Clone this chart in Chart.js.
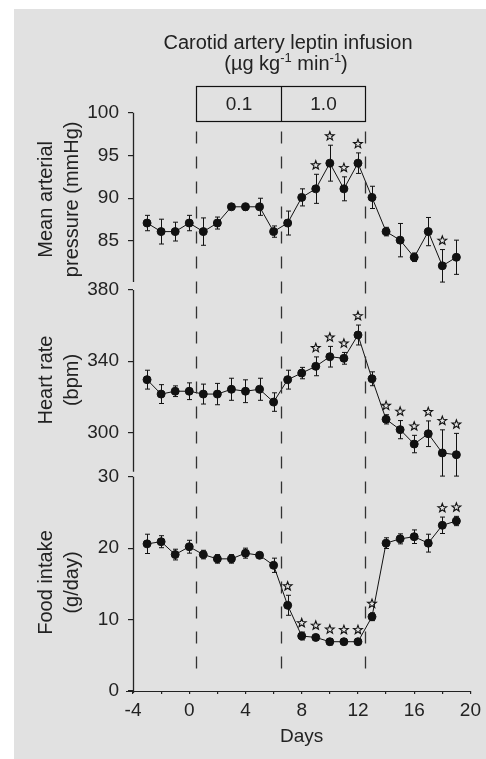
<!DOCTYPE html>
<html>
<head>
<meta charset="utf-8">
<script src="https://cdn.jsdelivr.net/npm/chart.js@4.4.1/dist/chart.umd.min.js"></script>
<style>
  html, body { margin: 0; padding: 0; background: #fff; }
  #panel { position: absolute; left: 14px; top: 9px; width: 472px; height: 750px; background: #e1e1e1; }
</style>
</head>
<body>
<div id="panel"><canvas id="chart"></canvas></div>
<script>
// days of the study, one point per day
const days = [-3, -2, -1, 0, 1, 2, 3, 4, 5, 6, 7, 8, 9, 10, 11, 12, 13, 14, 15, 16, 17, 18, 19];

// mean arterial pressure (mmHg) and SEM
const pressure = [87.1, 86.1, 86.1, 87.1, 86.1, 87.1, 89, 89, 89, 86.1, 87.1, 90.1, 91.1, 94.1, 91.1, 94.1, 90.1, 86.1, 85.1, 83.1, 86.1, 82.1, 83.1];
const pressureErr = [0.9, 1.45, 1.1, 0.9, 1.6, 0.7, 0.3, 0.4, 1.0, 0.66, 1.4, 1.0, 1.7, 2.1, 1.4, 1.2, 1.3, 0.5, 1.95, 0.5, 1.65, 1.9, 2.0];
const pressureStars = [9, 10, 11, 12, 18];

// heart rate (bpm) and SEM
const heartRate = [329.6, 321.5, 323.1, 323.1, 321.5, 321.5, 324.2, 323.1, 324.2, 317, 329.6, 333.3, 337.1, 342.5, 341.6, 354.7, 330.1, 307.3, 301.5, 293.4, 299.2, 288.4, 287.4];
const heartRateErr = [5.3, 5.3, 3.0, 4.7, 5.6, 6.0, 6.2, 6.4, 6.2, 5.2, 5.3, 3.2, 5.3, 5.8, 3.3, 5.6, 3.9, 2.6, 5.1, 4.9, 7.2, 13, 12];
const heartRateStars = [9, 10, 11, 12, 14, 15, 16, 17, 18, 19];

// food intake (g/day) and SEM
const food = [20.6, 20.9, 19.1, 20.2, 19.1, 18.5, 18.5, 19.3, 19.0, 17.6, 12.0, 7.7, 7.5, 6.9, 6.9, 6.9, 10.4, 20.7, 21.3, 21.6, 20.7, 23.2, 23.8];
const foodErr = [1.35, 0.84, 0.75, 0.9, 0.6, 0.6, 0.6, 0.7, 0.4, 1.0, 1.4, 0.55, 0.4, 0.45, 0.4, 0.4, 0.55, 0.75, 0.7, 0.95, 1.25, 1.15, 0.65];
const foodStars = [7, 8, 9, 10, 11, 12, 13, 18, 19];

// infusion periods
const infusionEdges = [0.5, 6.5, 12.5];
const doseLabels = ["0.1", "1.0"];

const pressureTicks = [85, 90, 95, 100];
const heartRateTicks = [300, 340, 380];
const foodTicks = [0, 10, 20, 30];

Chart.defaults.font.family = "'Liberation Sans', Arial, sans-serif";
Chart.defaults.color = "#222";

const ink = "#111";

function series(values, err, stars, axis) {
  return {
    data: days.map((d, i) => ({ x: d, y: values[i] })),
    err: err,
    stars: stars,
    yAxisID: axis,
    borderColor: ink,
    borderWidth: 1,
    pointRadius: 4,
    pointBackgroundColor: ink,
    pointBorderColor: ink,
    tension: 0,
  };
}

function drawStar(ctx, cx, cy) {
  ctx.beginPath();
  for (let k = 0; k < 10; k++) {
    const r = k % 2 === 0 ? 4.6 : 1.9;
    const a = -Math.PI / 2 + (k * Math.PI) / 5;
    const px = cx + r * Math.cos(a);
    const py = cy + r * Math.sin(a);
    if (k === 0) ctx.moveTo(px, py);
    else ctx.lineTo(px, py);
  }
  ctx.closePath();
  ctx.stroke();
}

// error bars under the points, stars above them
const errorBars = {
  id: "errorBars",
  beforeDatasetsDraw(chart) {
    const ctx = chart.ctx;
    const x = chart.scales.x;
    ctx.save();
    ctx.strokeStyle = ink;
    ctx.lineWidth = 1;
    chart.data.datasets.forEach((ds) => {
      const y = chart.scales[ds.yAxisID];
      ds.data.forEach((p, i) => {
        const px = Math.round(x.getPixelForValue(p.x)) + 0.5;
        const top = y.getPixelForValue(p.y + ds.err[i]);
        const bottom = y.getPixelForValue(p.y - ds.err[i]);
        ctx.beginPath();
        ctx.moveTo(px, top);
        ctx.lineTo(px, bottom);
        ctx.moveTo(px - 2.5, top);
        ctx.lineTo(px + 2.5, top);
        ctx.moveTo(px - 2.5, bottom);
        ctx.lineTo(px + 2.5, bottom);
        ctx.stroke();
      });
    });
    ctx.restore();
  },
  afterDatasetsDraw(chart) {
    const ctx = chart.ctx;
    const x = chart.scales.x;
    ctx.save();
    ctx.strokeStyle = ink;
    ctx.lineWidth = 1.1;
    chart.data.datasets.forEach((ds) => {
      const y = chart.scales[ds.yAxisID];
      ds.stars.forEach((d) => {
        const i = days.indexOf(d);
        const px = x.getPixelForValue(d);
        const py = y.getPixelForValue(ds.data[i].y + ds.err[i]) - 9;
        drawStar(ctx, px, py);
      });
    });
    ctx.restore();
  },
};

// axis lines, infusion box, dashed period lines and the heading
const decorations = {
  id: "decorations",
  afterDraw(chart) {
    const ctx = chart.ctx;
    const x = chart.scales.x;
    const yP = chart.scales.yPressure;
    const yH = chart.scales.yHeart;
    const yF = chart.scales.yFood;
    const axisX = Math.round(x.left) + 0.5;
    ctx.save();

    // y axis segments
    ctx.strokeStyle = "#222";
    ctx.lineWidth = 1.3;
    ctx.beginPath();
    ctx.moveTo(axisX, yP.getPixelForValue(100));
    ctx.lineTo(axisX, yP.getPixelForValue(80.2));
    ctx.moveTo(axisX, yH.getPixelForValue(380));
    ctx.lineTo(axisX, yH.getPixelForValue(277.8));
    ctx.moveTo(axisX, yF.getPixelForValue(30));
    ctx.lineTo(axisX, yF.getPixelForValue(0) + 2);
    ctx.stroke();

    // x axis line
    const axisY = Math.round(x.top) + 0.5;
    ctx.lineWidth = 1.2;
    ctx.beginPath();
    ctx.moveTo(x.left - 7, axisY);
    ctx.lineTo(x.right, axisY);
    ctx.stroke();

    // dose box
    const boxTop = 77.5;
    const boxBottom = 112.5;
    const edges = infusionEdges.map((v) => Math.round(x.getPixelForValue(v)) + 0.5);
    ctx.strokeStyle = ink;
    ctx.lineWidth = 1.2;
    ctx.strokeRect(edges[0], boxTop, edges[2] - edges[0], boxBottom - boxTop);
    ctx.beginPath();
    ctx.moveTo(edges[1], boxTop);
    ctx.lineTo(edges[1], boxBottom);
    ctx.stroke();

    ctx.fillStyle = "#222";
    ctx.font = "19px 'Liberation Sans', Arial, sans-serif";
    ctx.textAlign = "center";
    ctx.textBaseline = "middle";
    doseLabels.forEach((t, k) => {
      ctx.fillText(t, (edges[k] + edges[k + 1]) / 2, (boxTop + boxBottom) / 2 + 1);
    });

    // dashed period lines
    ctx.strokeStyle = "#333";
    ctx.lineWidth = 1.3;
    ctx.setLineDash([12, 13]);
    const dashEnd = yF.getPixelForValue(0) - 17;
    edges.forEach((ex) => {
      ctx.beginPath();
      ctx.moveTo(ex, boxBottom + 10);
      ctx.lineTo(ex, dashEnd);
      ctx.stroke();
    });
    ctx.setLineDash([]);

    // heading
    const cx = (edges[0] + edges[2]) / 2 + 7;
    ctx.font = "20px 'Liberation Sans', Arial, sans-serif";
    ctx.fillText("Carotid artery leptin infusion", cx, 34);

    const parts = [
      ["(\u00b5g kg", 20, 0],
      ["-1", 13, -6],
      [" min", 20, 0],
      ["-1", 13, -6],
      [")", 20, 0],
    ];
    let total = 0;
    parts.forEach((p) => {
      ctx.font = p[1] + "px 'Liberation Sans', Arial, sans-serif";
      p.push(ctx.measureText(p[0]).width);
      total += p[3];
    });
    let px = cx - 2 - total / 2;
    ctx.textAlign = "left";
    parts.forEach((p) => {
      ctx.font = p[1] + "px 'Liberation Sans', Arial, sans-serif";
      ctx.fillText(p[0], px, 55 + p[2]);
      px += p[3];
    });

    ctx.restore();
  },
};

function leftAxis(title, min, max, ticks, weight, stackWeight) {
  return {
    type: "linear",
    position: "left",
    stack: "panels",
    stackWeight: stackWeight,
    weight: weight,
    min: min,
    max: max,
    afterBuildTicks: (s) => {
      s.ticks = ticks.map((v) => ({ value: v }));
    },
    afterFit: (s) => {
      s.width = 109;
    },
    grid: { drawOnChartArea: false, tickLength: 5, color: "#222", lineWidth: 1.2 },
    border: { display: false },
    ticks: { padding: 9, font: { size: 19 }, color: "#222" },
    title: {
      display: true,
      text: title,
      color: "#222",
      font: { size: 20, lineHeight: 1.3 },
      padding: { top: 9, bottom: 0 },
    },
  };
}

const config = {
  type: "line",
  data: {
    datasets: [
      series(pressure, pressureErr, pressureStars, "yPressure"),
      series(heartRate, heartRateErr, heartRateStars, "yHeart"),
      series(food, foodErr, foodStars, "yFood"),
    ],
  },
  options: {
    responsive: true,
    maintainAspectRatio: false,
    animation: false,
    layout: { padding: { top: 103.7, left: 10, right: 10, bottom: 0 } },
    plugins: {
      legend: { display: false },
      tooltip: { enabled: false },
    },
    scales: {
      x: {
        type: "linear",
        min: -4,
        max: 20,
        ticks: {
          stepSize: 2,
          autoSkip: false,
          maxRotation: 0,
          padding: 5,
          font: { size: 19 },
          color: "#222",
          callback: (v) => (v % 4 === 0 ? v : ""),
        },
        grid: { drawOnChartArea: false, tickLength: 3, color: "#222", lineWidth: 1.2 },
        border: { display: false },
        title: {
          display: true,
          text: "Days",
          color: "#222",
          font: { size: 19 },
          padding: { top: 0, bottom: 11 },
        },
        afterFit: (s) => {
          s.height = 68;
        },
      },
      yPressure: leftAxis(["Mean arterial", "pressure (mmHg)"], 79.74, 100, pressureTicks, 3, 173.3),
      yHeart: leftAxis(["Heart rate", "(bpm)"], 276.57, 382.25, heartRateTicks, 2, 188),
      yFood: leftAxis(["Food intake", "(g/day)"], 0, 30.38, foodTicks, 1, 217),
    },
  },
  plugins: [errorBars, decorations],
};

const ctx = document.getElementById("chart").getContext("2d");
const myChart = new Chart(ctx, config);
</script>
</body>
</html>
